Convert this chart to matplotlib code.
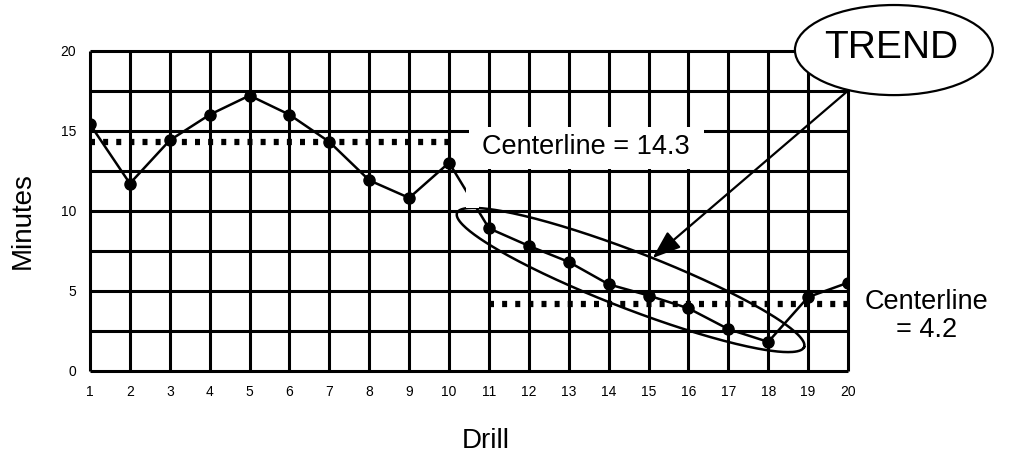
import numpy as np
import matplotlib.pyplot as plt
from matplotlib.patches import Ellipse, Rectangle

plt.rcParams['font.family'] = ['Liberation Sans', 'DejaVu Sans']

# run chart data
drills = list(range(1, 21))
minutes = [15.4, 11.7, 14.4, 16.0, 17.2, 16.0, 14.3, 11.9, 10.8, 13.0,
           8.9, 7.8, 6.8, 5.4, 4.7, 3.9, 2.6, 1.8, 4.6, 5.5]
center_before = 14.3
center_after = 4.2
y_ticks = [0, 5, 10, 15, 20]
grid_y = [0, 2.5, 5, 7.5, 10, 12.5, 15, 17.5, 20]

W, H = 1013, 454
AX_W, AX_H = 758, 320
fig = plt.figure(figsize=(W / 100, H / 100), dpi=100)
ax = fig.add_axes([90 / W, 83.3 / H, AX_W / W, AX_H / H])
ax.set_xlim(1, 20)
ax.set_ylim(0, 20)
for s in ax.spines.values():
    s.set_visible(False)

# hand-drawn style grid
ax.vlines(drills, 0, 20, color='black', lw=2.2, zorder=1, clip_on=False)
ax.hlines(grid_y, 1, 20, color='black', lw=2.2, zorder=1, clip_on=False)

# blank area behind the first centerline label
ax.add_patch(Rectangle((10.5, 12.62), 5.9, 2.62, fc='white', ec='none', zorder=1.5))
ax.text(13.44, 14.0, 'Centerline = ' + str(center_before), ha='center', va='center',
        fontsize=19.5, zorder=3)

# centerlines
dots = (0, (0.8, 1.3))
ax.plot([1, 10], [center_before] * 2, ls=dots, lw=4.5, color='black',
        dash_capstyle='butt', zorder=2)
ax.plot([11, 20], [center_after] * 2, ls=dots, lw=4.5, color='black',
        dash_capstyle='butt', zorder=2)
ax.text(21.98, 3.39, 'Centerline\n= ' + str(center_after), ha='center', va='center',
        multialignment='center', fontsize=19.5, linespacing=1.1, clip_on=False)

# data
ax.plot(drills, minutes, color='black', lw=1.8, marker='o', ms=8, zorder=4)
ax.add_patch(Rectangle((10.42, 10.15), 0.33, 1.3, fc='white', ec='none', zorder=4.5))

# ellipse round the trend points, built in pixel-like units so it keeps its shape
sx = AX_W / 19
sy = AX_H / 20
x0, y0, x1, y1 = 10.2, 9.86, 18.9, 1.48
cx, cy = (x0 + x1) / 2 * sx, (y0 + y1) / 2 * sy
ang = np.arctan2((y1 - y0) * sy, (x1 - x0) * sx)
a = np.hypot((x1 - x0) * sx, (y1 - y0) * sy) / 2
b = 28.5
t = np.linspace(0, 2 * np.pi, 300)
u = cx + a * np.cos(t) * np.cos(ang) - b * np.sin(t) * np.sin(ang)
v = cy + a * np.cos(t) * np.sin(ang) + b * np.sin(t) * np.cos(ang)
ax.plot(u / sx, v / sy, color='black', lw=1.8, zorder=3.5, clip_on=False)

# TREND callout
ax.annotate('', xy=(15.1, 7.04), xytext=(20.0, 17.5),
            arrowprops=dict(arrowstyle='-|>,head_length=0.6,head_width=0.22',
                            mutation_scale=29, lw=1.6, color='black',
                            shrinkA=0, shrinkB=0),
            zorder=3.6, annotation_clip=False)
ax.add_patch(Ellipse((21.15, 20.04), 4.96, 5.63, fc='white', ec='black', lw=1.6,
                     zorder=6, clip_on=False))
ax.text(21.08, 20.2, 'TREND', ha='center', va='center', fontsize=28, zorder=7)

# ticks and labels
ax.set_xticks(drills)
ax.set_yticks(y_ticks)
ax.tick_params(length=0, pad=10, labelsize=10)
ax.set_xlabel('Drill', fontsize=20)
ax.set_ylabel('Minutes', fontsize=20)
ax.xaxis.set_label_coords(0.522, -0.18)
ax.yaxis.set_label_coords(-0.072, 0.468)

fig.savefig('out.png', dpi=100)
